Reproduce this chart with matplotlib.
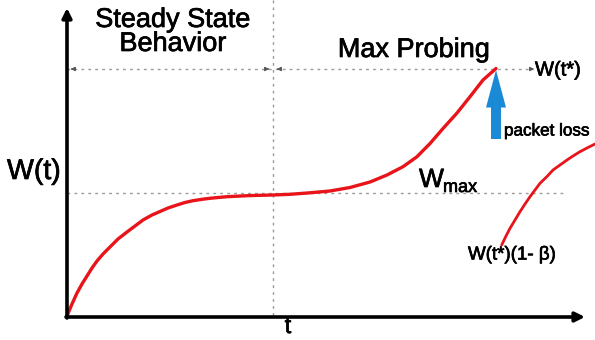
import matplotlib
matplotlib.use("Agg")
import matplotlib.pyplot as plt
import matplotlib.patheffects as pe

plt.rcParams['font.family'] = ['Liberation Sans', 'DejaVu Sans']

# window curve (t, W in picture units, W grows downward on screen)
t_main = [67, 72, 77, 82, 87, 92, 97, 103, 110, 118, 127, 135, 143, 152, 160, 168,
          177, 185, 193, 202, 210, 218, 227, 237, 247, 260, 273,
          290, 310, 330, 350, 370, 387, 403, 417, 430, 443, 457, 470, 483, 496]
w_main = [316, 304, 293, 284, 276, 268, 261, 254, 247, 239, 232, 226, 220, 215, 211.5, 208,
          205, 202.5, 200.7, 199.3, 198.3, 197.5, 196.7, 196.2, 195.7, 195.3, 195,
          194.3, 192.8, 191, 187.5, 182, 175, 166.7, 156.7, 143.5, 128.5, 113, 96.7, 80, 68.5]

t_after = [501.7, 506, 510, 515, 520, 525, 530, 535, 540, 547, 553, 560, 567, 573, 580, 587, 595]
w_after = [245, 236, 228.3, 220, 211.7, 204, 196.7, 190, 183.3, 176.5, 170, 165, 160, 156, 151.7, 148, 144]

t_split = 273      # end of steady state
w_max = 193        # W_max level
w_star = 69        # W(t*) level
t_loss = 496       # packet loss time
origin = (67, 317)

fig = plt.figure(figsize=(5.95, 3.4), dpi=100)
ax = fig.add_axes([0, 0, 1, 1])
ax.set_xlim(0, 595)
ax.set_ylim(340, 0)
ax.axis("off")

dot = dict(color="#9a9a9a", lw=1.0, ls=(0, (2, 3)))

# dotted guides
ax.plot([t_split, t_split], [0, origin[1]], **dot)
ax.plot([origin[0], 563], [w_max, w_max], **dot)
ax.plot([origin[0], 533], [w_star, w_star], **dot)
# little arrow heads on the W(t*) line
arr_small = dict(arrowstyle="-|>", color="#555555", lw=0.8, mutation_scale=6)
ax.annotate("", xy=(origin[0] + 1, w_star), xytext=(origin[0] + 8, w_star), arrowprops=arr_small)
ax.annotate("", xy=(t_split - 1, w_star), xytext=(t_split - 8, w_star), arrowprops=arr_small)
ax.annotate("", xy=(t_split + 1, w_star), xytext=(t_split + 8, w_star), arrowprops=arr_small)
ax.annotate("", xy=(537, w_star), xytext=(528, w_star), arrowprops=arr_small)

# axes with arrows
axis_arrow = dict(arrowstyle="-|>", color="black", lw=2.6, mutation_scale=14, shrinkA=0, shrinkB=0)
ax.annotate("", xy=(origin[0], 8), xytext=(origin[0], origin[1] + 1), arrowprops=axis_arrow)
ax.annotate("", xy=(585, origin[1]), xytext=(origin[0] - 1, origin[1]), arrowprops=axis_arrow)

# window curves
ax.plot(t_main, w_main, color="#e8141a", lw=2.4, solid_capstyle="round", solid_joinstyle="round")
ax.plot(t_after, w_after, color="#e8141a", lw=2.0, solid_capstyle="round", solid_joinstyle="round")

# packet loss arrow
ax.annotate("", xy=(t_loss, 70), xytext=(t_loss, 139),
            arrowprops=dict(arrowstyle="simple,head_width=1.6,head_length=3.0,tail_width=0.8",
                            color="#1b8ad6", lw=0, shrinkA=0, shrinkB=0, mutation_scale=9))

# labels (a thin stroke thickens the glyphs a bit like the original)
thick = [pe.withStroke(linewidth=0.5, foreground="black")]
ax.text(173, 32, "Steady State\nBehavior", fontsize=19.5, ha="center", va="center",
        linespacing=0.9, path_effects=thick)
ax.text(414, 50, "Max Probing", fontsize=19.5, ha="center", va="center", path_effects=thick)
ax.text(535, 70, "W(t*)", fontsize=14.5, ha="left", va="center", path_effects=thick)
ax.text(504, 131, "packet loss", fontsize=12.3, ha="left", va="center", path_effects=thick)
ax.text(7, 172, "W(t)", fontsize=20.5, ha="left", va="center", path_effects=thick)
ax.text(419, 187, "W", fontsize=19, ha="left", va="baseline", path_effects=thick)
ax.text(443, 192, "max", fontsize=13, ha="left", va="baseline", path_effects=thick)
ax.text(468, 255, "W(t*)(1- β)", fontsize=13.5, ha="left", va="center", path_effects=thick)
ax.text(288, 327, "t", fontsize=17, ha="center", va="center", path_effects=thick)

fig.savefig("out.png", dpi=100)
